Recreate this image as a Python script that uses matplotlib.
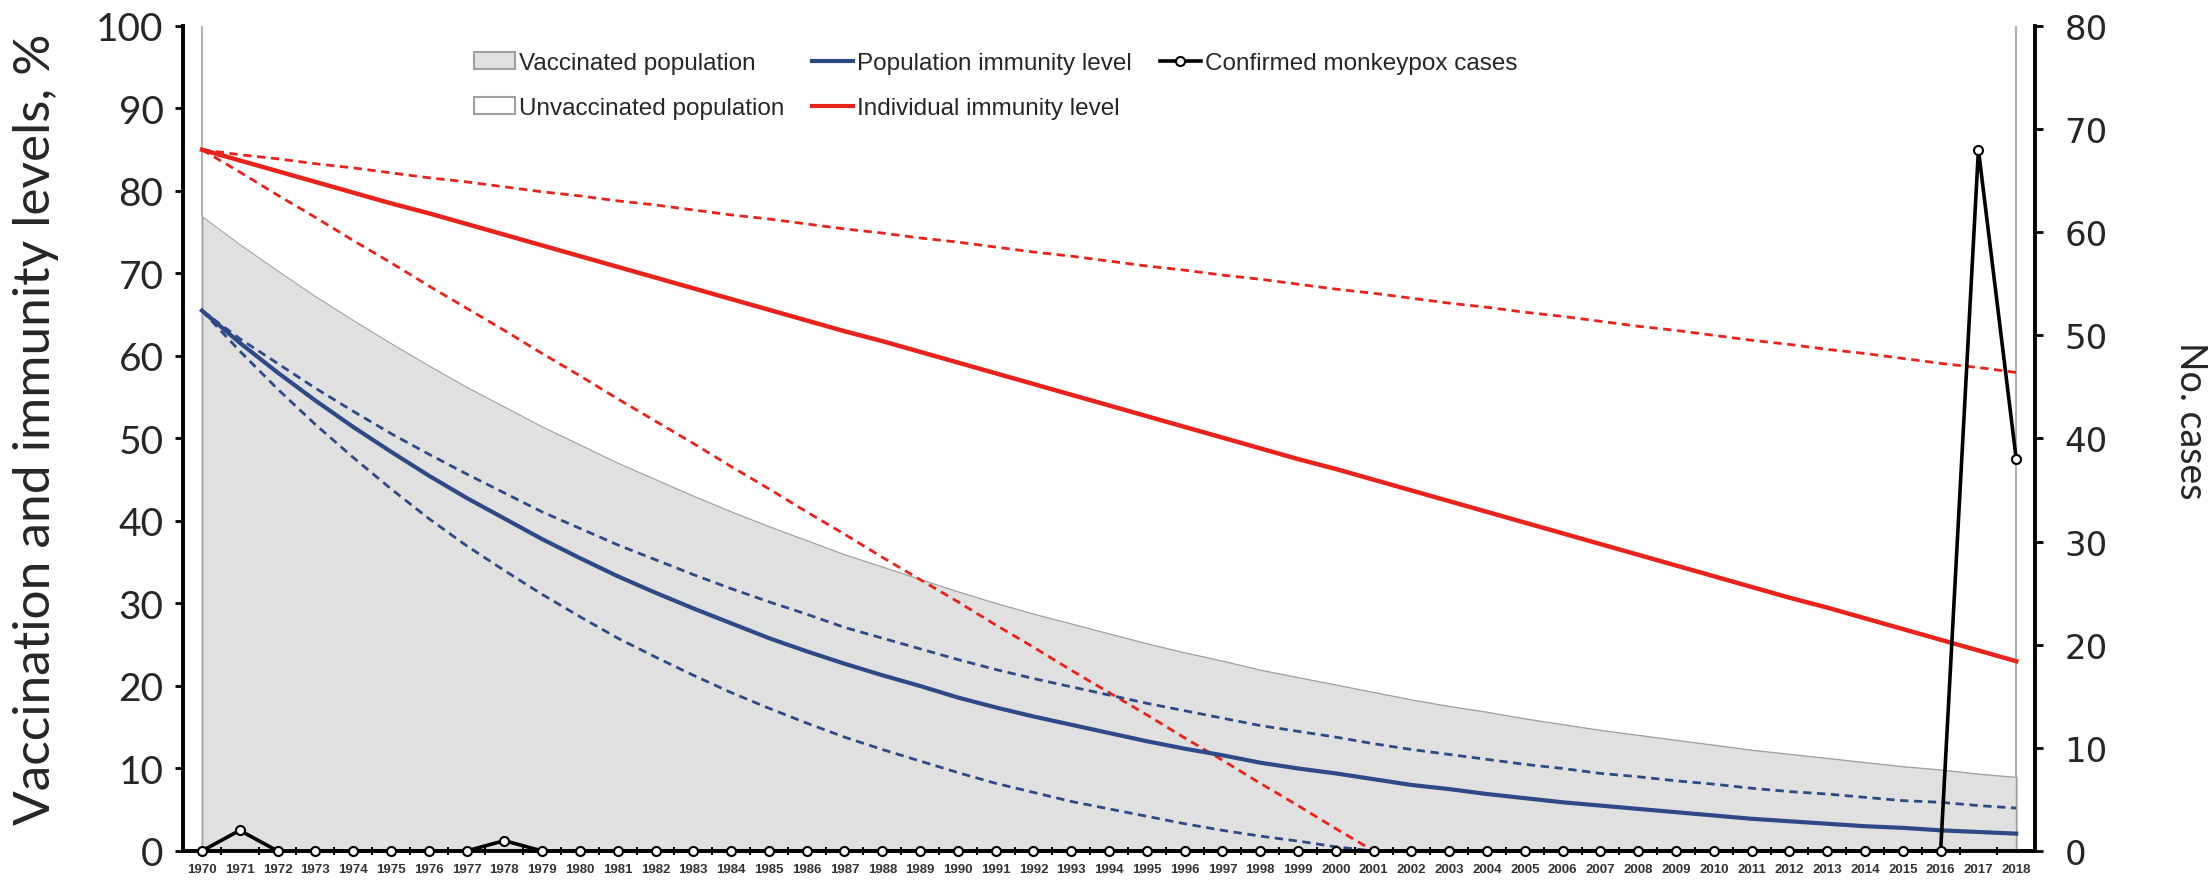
import numpy as np
import matplotlib.pyplot as plt
from matplotlib.patches import Patch
from matplotlib.lines import Line2D

# years on the category axis
years = np.arange(1970, 2019)

# vaccinated share of the population, %
vaccinated = [77.0, 73.6, 70.4, 67.3, 64.4, 61.6, 58.9, 56.3, 53.9, 51.5,
              49.3, 47.1, 45.1, 43.1, 41.2, 39.4, 37.7, 36.0, 34.5, 33.0,
              31.5, 30.1, 28.8, 27.6, 26.4, 25.2, 24.1, 23.1, 22.0, 21.1,
              20.2, 19.3, 18.4, 17.6, 16.9, 16.1, 15.4, 14.7, 14.1, 13.5,
              12.9, 12.3, 11.8, 11.3, 10.8, 10.3, 9.9, 9.4, 9.0]

# individual immunity level (central, upper, lower), %
ind_mid = [85.0, 83.7, 82.4, 81.1, 79.8, 78.5, 77.3, 76.0, 74.7, 73.4,
           72.1, 70.8, 69.5, 68.2, 66.9, 65.6, 64.3, 63.0, 61.8, 60.5,
           59.2, 57.9, 56.6, 55.3, 54.0, 52.7, 51.4, 50.1, 48.8, 47.5,
           46.3, 45.0, 43.7, 42.4, 41.1, 39.8, 38.5, 37.2, 35.9, 34.6,
           33.3, 32.0, 30.7, 29.5, 28.2, 26.9, 25.6, 24.3, 23.0]
ind_high = [85.0, 84.4, 83.9, 83.3, 82.8, 82.2, 81.6, 81.1, 80.5, 79.9,
            79.4, 78.8, 78.3, 77.7, 77.1, 76.6, 76.0, 75.4, 74.9, 74.3,
            73.8, 73.2, 72.6, 72.1, 71.5, 70.9, 70.4, 69.8, 69.3, 68.7,
            68.1, 67.6, 67.0, 66.4, 65.9, 65.3, 64.8, 64.2, 63.6, 63.1,
            62.5, 61.9, 61.4, 60.8, 60.3, 59.7, 59.1, 58.6, 58.0]
ind_low = [85.0, 82.3, 79.5, 76.8, 74.0, 71.3, 68.5, 65.8, 63.1, 60.3,
           57.6, 54.8, 52.1, 49.4, 46.6, 43.9, 41.1, 38.4, 35.6, 32.9,
           30.2, 27.4, 24.7, 21.9, 19.2, 16.5, 13.7, 11.0, 8.2, 5.5,
           2.7, 0.0]

# population immunity level (central, upper, lower), %
pop_mid = [65.5, 61.6, 58.0, 54.6, 51.4, 48.4, 45.5, 42.8, 40.3, 37.8,
           35.5, 33.3, 31.3, 29.4, 27.6, 25.8, 24.2, 22.7, 21.3, 20.0,
           18.6, 17.4, 16.3, 15.3, 14.3, 13.3, 12.4, 11.6, 10.7, 10.0,
           9.4, 8.7, 8.0, 7.5, 6.9, 6.4, 5.9, 5.5, 5.1, 4.7,
           4.3, 3.9, 3.6, 3.3, 3.0, 2.8, 2.5, 2.3, 2.1]
pop_high = [65.5, 62.1, 59.1, 56.1, 53.3, 50.6, 48.1, 45.7, 43.4, 41.1,
            39.1, 37.1, 35.3, 33.5, 31.8, 30.2, 28.7, 27.1, 25.8, 24.5,
            23.2, 22.0, 20.9, 19.9, 18.9, 17.9, 17.0, 16.1, 15.2, 14.5,
            13.8, 13.0, 12.3, 11.7, 11.1, 10.5, 10.0, 9.4, 9.0, 8.5,
            8.1, 7.6, 7.2, 6.9, 6.5, 6.1, 5.9, 5.5, 5.2]
pop_low = [65.5, 60.6, 56.0, 51.7, 47.7, 43.9, 40.3, 37.0, 34.0, 31.1,
           28.4, 25.8, 23.5, 21.3, 19.2, 17.3, 15.5, 13.8, 12.3, 10.9,
           9.5, 8.2, 7.1, 6.0, 5.1, 4.2, 3.3, 2.5, 1.8, 1.2,
           0.5, 0.0]

# confirmed monkeypox cases per year
cases = [0, 2, 0, 0, 0, 0, 0, 0, 1, 0,
         0, 0, 0, 0, 0, 0, 0, 0, 0, 0,
         0, 0, 0, 0, 0, 0, 0, 0, 0, 0,
         0, 0, 0, 0, 0, 0, 0, 0, 0, 0,
         0, 0, 0, 0, 0, 0, 0, 68, 38]

red = '#e8231c'
blue = '#2d4a86'
gray_fill = '#e0e0e0'
gray_edge = '#a0a0a0'
text_col = '#262626'

fig = plt.figure(figsize=(22.08, 8.87), dpi=100)
ax = fig.add_axes([0.0829, 0.0395, 0.8388, 0.9301])
ax2 = ax.twinx()

# vaccinated / unvaccinated areas
ax.fill_between(years, 0, vaccinated, facecolor=gray_fill, edgecolor=gray_edge, lw=1.3, zorder=1)
ax.fill_between(years, vaccinated, 100, facecolor='white', edgecolor='none', zorder=1)
ax.vlines([years[0], years[-1]], [vaccinated[0], vaccinated[-1]], 100, colors='#b0b0b0', lw=1.5, zorder=1)

# individual immunity (red)
ax.plot(years, ind_mid, color=red, lw=3.2, zorder=3)
ax.plot(years, ind_high, color=red, lw=2.0, ls=(0, (3, 2)), zorder=3)
ax.plot(years[:len(ind_low)], ind_low, color=red, lw=2.0, ls=(0, (3, 2)), zorder=3)

# population immunity (blue)
ax.plot(years, pop_mid, color=blue, lw=3.0, zorder=3)
ax.plot(years, pop_high, color=blue, lw=2.0, ls=(0, (3, 2)), zorder=3)
ax.plot(years[:len(pop_low)], pop_low, color=blue, lw=2.0, ls=(0, (3, 2)), zorder=3)

# cases on the right axis
ax2.plot(years, cases, color='black', lw=2.6, marker='o', ms=6.5, mfc='white',
         mec='black', mew=1.5, clip_on=False, zorder=5)

ax.set_xlim(1969.5, 2018.5)
ax.set_ylim(0, 100)
ax2.set_ylim(0, 80)

# x axis: year labels with small ticks between categories
ax.set_xticks(years)
ax.set_xticklabels([str(y) for y in years], fontsize=9.5, family='Liberation Sans',
                   weight='bold', color='#333333')
ax.set_xticks(years[:-1] + 0.5, minor=True)
ax.tick_params(axis='x', which='major', length=0, pad=9)
ax.tick_params(axis='x', which='minor', length=6, width=1.5, direction='inout')

# left axis
ax.set_yticks(range(0, 101, 10))
ax.tick_params(axis='y', length=6, width=2, pad=8, labelsize=28, labelcolor=text_col)
for lab in ax.get_yticklabels():
    lab.set_family('Lato')
ax.set_ylabel('Vaccination and immunity levels, %', fontsize=37, family='Lato',
              color=text_col, va='center')
ax.yaxis.set_label_coords(-0.0795, 0.512)

# right axis
ax2.set_yticks(range(0, 81, 10))
ax2.tick_params(axis='y', length=6, width=2, pad=15, labelsize=24.5, labelcolor=text_col)
for lab in ax2.get_yticklabels():
    lab.set_family('DejaVu Sans')
ax2.set_ylabel('No. cases', fontsize=27, family='Lato', color=text_col, rotation=270, va='center')
ax2.yaxis.set_label_coords(1.084, 0.523)

for s in ['top', 'right']:
    ax.spines[s].set_visible(False)
for s in ['top', 'left', 'bottom']:
    ax2.spines[s].set_visible(False)
ax.spines['left'].set_linewidth(2.8)
ax.spines['bottom'].set_linewidth(2.8)
ax2.spines['right'].set_linewidth(2.8)

# legend
handles = [
    Patch(facecolor=gray_fill, edgecolor=gray_edge, lw=1.5),
    Patch(facecolor='white', edgecolor=gray_edge, lw=1.5),
    Line2D([], [], color=blue, lw=3),
    Line2D([], [], color=red, lw=3),
    Line2D([], [], color='black', lw=2.6, marker='o', ms=6.5, mfc='white', mec='black', mew=1.5),
]
labels = ['Vaccinated population', 'Unvaccinated population', 'Population immunity level',
          'Individual immunity level', 'Confirmed monkeypox cases']
leg = ax2.legend(handles, labels, ncol=3, loc='upper left', bbox_to_anchor=(0.157, 0.968),
                 frameon=False, borderpad=0, borderaxespad=0, handlelength=1.7,
                 handletextpad=0.15, columnspacing=1.15, labelspacing=0.95,
                 prop={'family': 'Liberation Sans', 'size': 17.5})
for t in leg.get_texts():
    t.set_color(text_col)

fig.savefig('out.png', dpi=100)
